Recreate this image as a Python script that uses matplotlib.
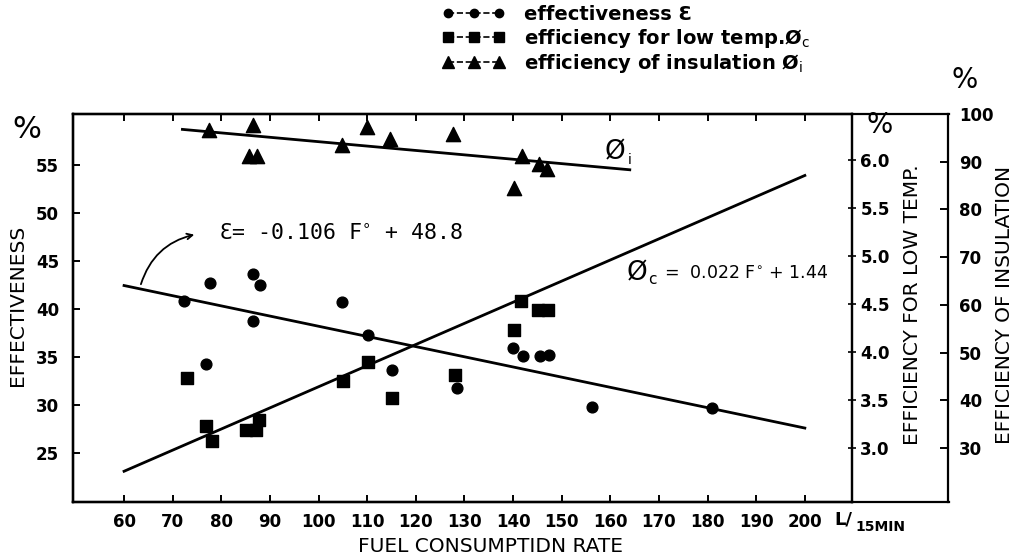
import matplotlib.pyplot as plt
import numpy as np
from matplotlib.lines import Line2D

# fuel consumption rate F (L/15min) for each series
effF = [72.4, 77.7, 86.6, 88.0, 86.6, 104.8, 110.2, 76.8, 115.0, 128.4,
        139.9, 142.1, 145.5, 147.4, 156.2, 181.0]
effVal = [40.8, 42.7, 43.6, 42.5, 38.7, 40.7, 37.3, 34.25, 33.6, 31.8,
          35.9, 35.15, 35.15, 35.2, 29.8, 29.7]

lowF = [72.9, 76.8, 78.0, 85.1, 87.1, 87.8, 105.0, 110.2, 115.2, 128.0,
        141.6, 140.2, 145.2, 147.2]
lowVal = [3.73, 3.23, 3.08, 3.19, 3.19, 3.29, 3.70, 3.90, 3.52, 3.76,
          4.53, 4.23, 4.44, 4.44]

insF = [77.5, 86.6, 85.6, 87.4, 104.8, 109.9, 114.7, 127.7, 141.8, 140.2,
        145.4, 146.9]
insVal = [96.75, 97.6, 91.3, 91.3, 93.4, 97.2, 94.7, 95.8, 91.3, 84.5,
          89.6, 88.5]

# fitted lines: slope, intercept and F range
effFit = (-0.106, 48.8, 60, 200)
lowFit = (0.022, 1.44, 60, 200)
insFit = (-0.092, 103.4, 72, 164)

xTicks = list(range(60, 201, 10))
effTicks = [25, 30, 35, 40, 45, 50, 55]
lowTicks = [3.0, 3.5, 4.0, 4.5, 5.0, 5.5, 6.0]
insTicks = [30, 40, 50, 60, 70, 80, 90, 100]

W, H = 1018, 558
fig = plt.figure(figsize=(W / 100, H / 100), dpi=100)
left, right, bottom, top = 73 / W, 852 / W, 1 - 502 / H, 1 - 114 / H
ax = fig.add_axes([left, bottom, right - left, top - bottom])

# strip between the two right hand axes
strip = fig.add_axes([right, bottom, 97 / W, top - bottom], zorder=-1)
strip.set_xticks([])
strip.set_yticks([])
strip.spines['left'].set_visible(False)
strip.spines['right'].set_visible(False)
for s in ['top', 'bottom']:
    strip.spines[s].set_linewidth(1.6)
strip.patch.set_alpha(0)

ax2 = ax.twinx()
ax3 = ax.twinx()
ax3.spines['right'].set_position(('axes', (948 - 73) / (852 - 73)))

tickFont = dict(fontsize=12, fontweight='bold', family='DejaVu Sans')
lw = 2.0

def fitLine(a, fit, **kw):
    k, b, f0, f1 = fit
    f = np.array([f0, f1])
    a.plot(f, k * f + b, color='black', lw=lw, **kw)

ax.scatter(effF, effVal, s=60, marker='o', color='black', zorder=3)
fitLine(ax, effFit)
ax2.scatter(lowF, lowVal, s=85, marker='s', color='black', zorder=3)
fitLine(ax2, lowFit)
ax3.scatter(insF, insVal, s=105, marker='^', color='black', zorder=3)
fitLine(ax3, insFit)

ax.set_xlim(49.5, 209.7)
ax.set_ylim(19.9, 60.3)
ax2.set_ylim(2.44, 6.48)
ax3.set_ylim(18.7, 100)

ax.set_xticks(xTicks)
ax.set_xticklabels([str(v) for v in xTicks], **tickFont)
ax.set_yticks(effTicks)
ax.set_yticklabels([str(v) for v in effTicks], **tickFont)
ax.tick_params(axis='x', direction='in', length=5, width=1.4, top=True, pad=8)
ax.tick_params(axis='y', direction='in', length=5, width=1.4, pad=10)

ax2.set_yticks(lowTicks)
ax2.set_yticklabels(['%.1f' % v for v in lowTicks], **tickFont)
ax2.tick_params(axis='y', direction='inout', length=6, width=1.2, pad=3)

ax3.set_yticks(insTicks)
ax3.set_yticklabels([str(v) for v in insTicks], **tickFont)
ax3.tick_params(axis='y', direction='in', length=6, width=1.4, pad=8)

for a in [ax, ax2, ax3]:
    for s in a.spines.values():
        s.set_linewidth(1.6)

labelFont = dict(fontsize=14.5, family='DejaVu Sans')
fig.text(18 / W, 1 - 305 / H, 'EFFECTIVENESS', rotation=90,
         ha='center', va='center', **labelFont)
fig.text(491 / W, 1 - 547 / H, 'FUEL CONSUMPTIDN RATE', ha='center', va='center', **labelFont)
fig.text(913 / W, 1 - 305 / H, 'EFFICIENCY FOR LOW TEMP.', rotation=90,
         ha='center', va='center', **labelFont)
fig.text(1005 / W, 1 - 305 / H, 'EFFICIENCY OF INSULATION', rotation=90,
         ha='center', va='center', **labelFont)
# unit of the x axis
fig.text(834 / W, 1 - 519 / H, 'L/', fontsize=13, fontweight='bold', va='center')
fig.text(855 / W, 1 - 527 / H, '15MIN', fontsize=10, fontweight='bold', va='center')

# percent signs over the axes
fig.text(27 / W, 1 - 130 / H, '%', fontsize=22, ha='center', va='center')
fig.text(880 / W, 1 - 125 / H, '%', fontsize=20, ha='center', va='center')
fig.text(965 / W, 1 - 80 / H, '%', fontsize=20, ha='center', va='center')

# equations
ax.text(79.5, 47.8, 'Ɛ= -0.106 F$^{\\circ}$ + 48.8', fontsize=15.5,
        family='DejaVu Sans Mono', va='center')
ax.annotate('', xy=(75, 47.8), xytext=(63.3, 42.3),
            arrowprops=dict(arrowstyle='->', lw=1.3, color='black',
                            connectionstyle='arc3,rad=-0.3'))
ax2.text(163.4, 4.82, 'Ø', fontsize=19, va='center')
ax2.text(167.8, 4.76, 'c', fontsize=11, va='center')
ax2.text(171.0, 4.82, '=  0.022 F$^{\\circ}$ + 1.44', fontsize=12.5, va='center')
ax3.text(158.9, 92.0, 'Ø', fontsize=19, va='center')
ax3.text(163.6, 90.3, 'i', fontsize=10, va='center')

# legend at the top
handles = [
    Line2D([0], [0], color='black', marker='o', ls='--', lw=1.2, markersize=6),
    Line2D([0], [0], color='black', marker='s', ls='--', lw=1.2, markersize=7),
    Line2D([0], [0], color='black', marker='^', ls='--', lw=1.2, markersize=8),
]
labels = ['effectiveness Ɛ', 'efficiency for low temp.Ø$_\\mathrm{c}$',
          'efficiency of insulation Ø$_\\mathrm{i}$']
fig.legend(handles, labels, loc='upper left', bbox_to_anchor=(425 / W, 1.022),
           frameon=False, numpoints=3, handlelength=3.2, labelspacing=0.12,
           handletextpad=1.0, prop=dict(size=14, weight='bold'))

fig.savefig('out.png', dpi=100)
